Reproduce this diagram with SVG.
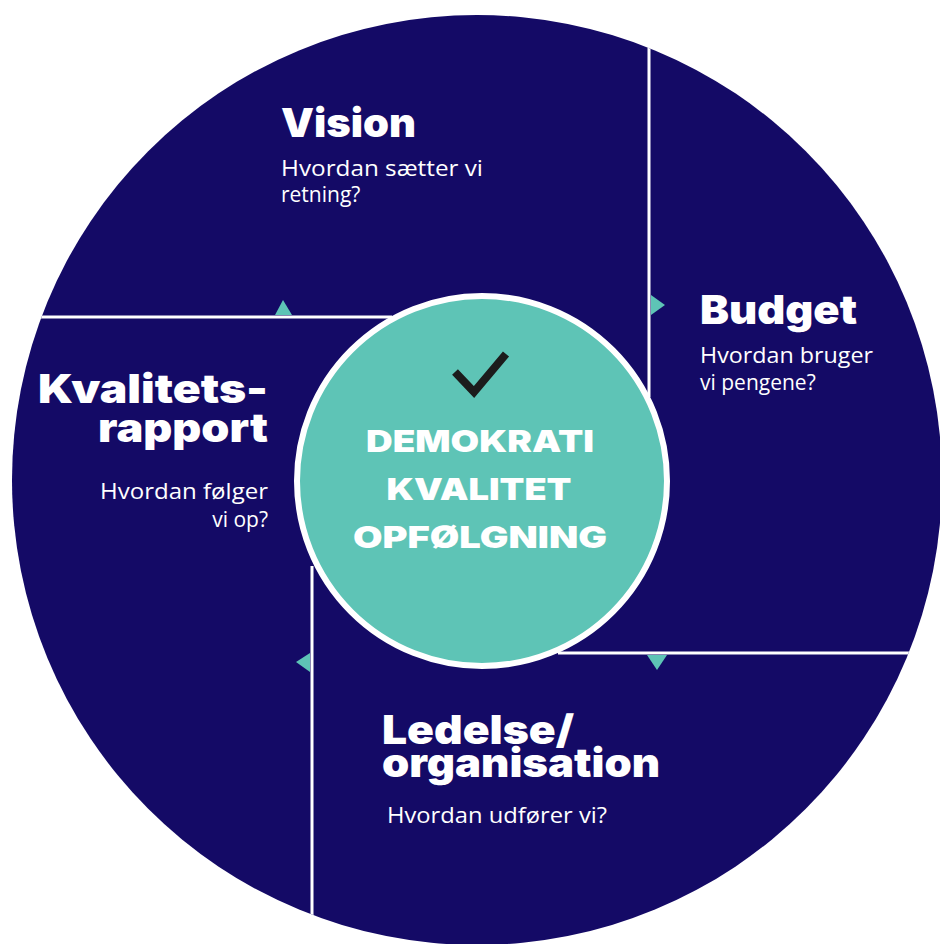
<svg xmlns="http://www.w3.org/2000/svg" width="940" height="944" viewBox="0 0 940 944">
<style>
.h{font-family:Inter,"Open Sans","Liberation Sans",sans-serif;font-weight:900;font-size:40px;fill:#fff}
.s{font-family:"Open Sans","Liberation Sans",sans-serif;font-size:21px;fill:#fff}
.c{font-family:Inter,"Liberation Sans",sans-serif;font-weight:900;font-size:30px;fill:#fff;text-anchor:middle}
.ln{stroke:#fff;stroke-width:3;fill:none}
.tri{fill:#5ec4b6}
</style>
<defs>
<clipPath id="big"><circle cx="477" cy="480" r="465"/></clipPath>
</defs>
<rect width="940" height="944" fill="#fff"/>
<circle id="disc" cx="477" cy="480" r="465" fill="#140a66"/>
<g id="connectors" clip-path="url(#big)">
<line class="ln" x1="0" y1="317" x2="392" y2="317"/>
<line class="ln" x1="649" y1="0" x2="649" y2="397"/>
<line class="ln" x1="558" y1="653" x2="940" y2="653"/>
<line class="ln" x1="312" y1="566" x2="312" y2="944"/>
<polygon class="tri" points="275,315 292,315 283,300"/>
<polygon class="tri" points="651,295 651,315 665,305"/>
<polygon class="tri" points="647,655 667,655 657,670"/>
<polygon class="tri" points="310,653 310,672 296,662"/>
</g>
<g id="center">
<circle cx="482" cy="481" r="185" fill="#5ec4b6" stroke="#fff" stroke-width="6"/>
<polyline points="455,372 474,392 506,354" fill="none" stroke="#1c1c1c" stroke-width="8" stroke-linejoin="miter"/>
<text class="c" x="480" y="452" textLength="228" lengthAdjust="spacingAndGlyphs">DEMOKRATI</text>
<text class="c" x="479" y="500" textLength="185" lengthAdjust="spacingAndGlyphs">KVALITET</text>
<text class="c" x="480" y="548" textLength="254" lengthAdjust="spacingAndGlyphs">OPFØLGNING</text>
</g>
<g id="vision">
<text class="h" x="281" y="137" textLength="135" lengthAdjust="spacingAndGlyphs">Vision</text>
<text class="s" x="281" y="176" textLength="202" lengthAdjust="spacingAndGlyphs">Hvordan sætter vi</text>
<text class="s" x="281" y="202">retning?</text>
</g>
<g id="budget">
<text class="h" x="700" y="324" textLength="157" lengthAdjust="spacingAndGlyphs">Budget</text>
<text class="s" x="700" y="363" textLength="173" lengthAdjust="spacingAndGlyphs">Hvordan bruger</text>
<text class="s" x="700" y="390">vi pengene?</text>
</g>
<g id="kvalitetsrapport">
<text class="h" x="268" y="403" text-anchor="end" textLength="230" lengthAdjust="spacingAndGlyphs">Kvalitets-</text>
<text class="h" x="268" y="442" text-anchor="end" textLength="170" lengthAdjust="spacingAndGlyphs">rapport</text>
<text class="s" x="268" y="499" text-anchor="end" textLength="168" lengthAdjust="spacingAndGlyphs">Hvordan følger</text>
<text class="s" x="268" y="527" text-anchor="end">vi op?</text>
</g>
<g id="ledelse">
<text class="h" x="382" y="744" textLength="192" lengthAdjust="spacingAndGlyphs">Ledelse/</text>
<text class="h" x="382" y="777" textLength="278" lengthAdjust="spacingAndGlyphs">organisation</text>
<text class="s" x="387" y="823" textLength="220" lengthAdjust="spacingAndGlyphs">Hvordan udfører vi?</text>
</g>
</svg>
